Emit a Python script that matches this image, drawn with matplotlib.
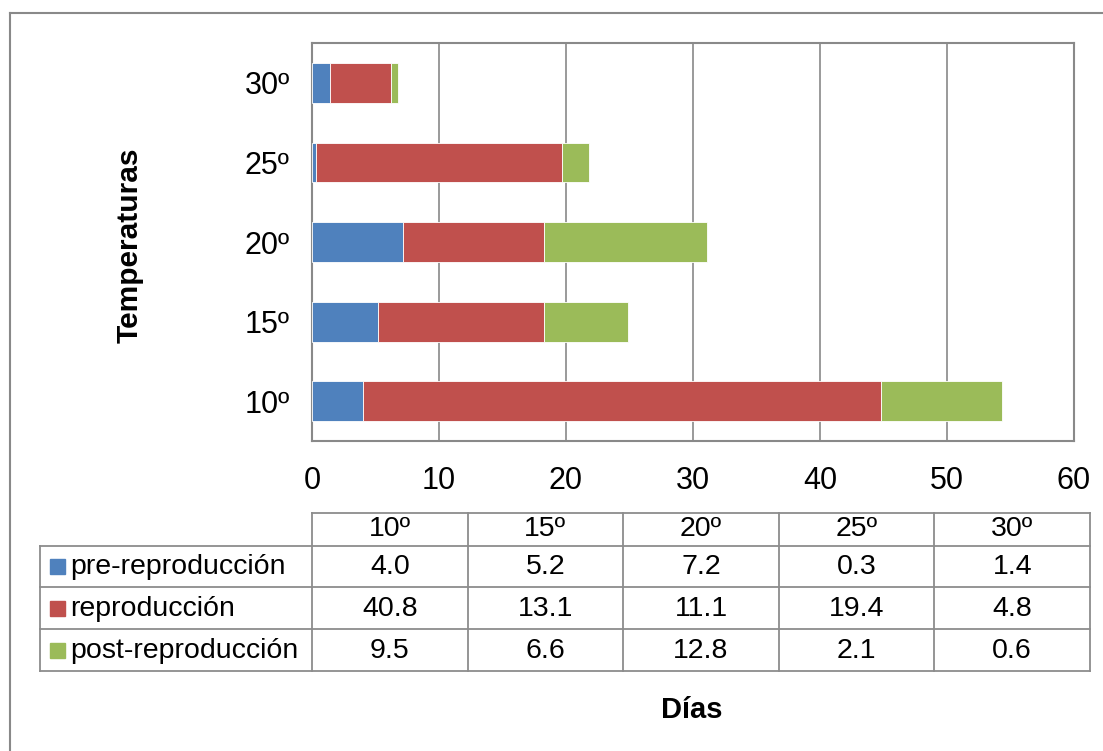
import matplotlib.pyplot as plt
import numpy as np

plt.rcParams['font.family'] = ['Liberation Sans', 'DejaVu Sans']

temps = ['10º', '15º', '20º', '25º', '30º']
series = ['pre-reproducción', 'reproducción', 'post-reproducción']
pre = [4.0, 5.2, 7.2, 0.3, 1.4]
rep = [40.8, 13.1, 11.1, 19.4, 4.8]
post = [9.5, 6.6, 12.8, 2.1, 0.6]
x_ticks = [0, 10, 20, 30, 40, 50, 60]

colors = ['#4F81BD', '#C0504D', '#9BBB59']
grey = '#898989'

W, H = 1103, 751
fig = plt.figure(figsize=(W / 100, H / 100), dpi=100)

# overlay in pixel units for frame, table and titles
ov = fig.add_axes([0, 0, 1, 1])
ov.set_xlim(0, W)
ov.set_ylim(H, 0)
ov.axis('off')

# main plot area
x0, x1, y0, y1 = 312, 1074, 43, 441
ax = fig.add_axes([x0 / W, 1 - y1 / H, (x1 - x0) / W, (y1 - y0) / H])
y = np.arange(len(temps))
left = np.zeros(len(temps))
for vals, c, name in zip([pre, rep, post], colors, series):
    ax.barh(y, vals, left=left, height=0.5, color=c, edgecolor='white',
            linewidth=0.6, label=name, zorder=3)
    left += np.array(vals)

ax.set_xlim(0, 60)
ax.set_ylim(-0.5, len(temps) - 0.5)
ax.set_xticks(x_ticks)
ax.set_yticks(y)
ax.set_yticklabels(temps)
ax.tick_params(axis='x', length=0, pad=18, labelsize=22)
ax.tick_params(axis='y', length=0, pad=16, labelsize=22)
ax.xaxis.grid(True, color=grey, linewidth=1.2, zorder=0)
for s in ax.spines.values():
    s.set_color(grey)
    s.set_linewidth(1.5)

# outer chart border (top and left edges)
ov.plot([10, W], [13, 13], color=grey, lw=1.5)
ov.plot([10, 10], [13, H], color=grey, lw=1.5)

# data table under the axis
col_edges = np.linspace(312, 1090, len(temps) + 1)
row_edges = [513, 546, 587, 629, 671]
lab_left = 40
tcol = '#8c8c8c'
fs = 20.5
ov.plot([col_edges[0], col_edges[-1]], [row_edges[0], row_edges[0]], color=tcol, lw=1.3)
for ry in row_edges[1:]:
    ov.plot([lab_left, col_edges[-1]], [ry, ry], color=tcol, lw=1.3)
for cx in col_edges:
    ov.plot([cx, cx], [row_edges[0], row_edges[-1]], color=tcol, lw=1.3)
ov.plot([lab_left, lab_left], [row_edges[1], row_edges[-1]], color=tcol, lw=1.3)

centers = (col_edges[:-1] + col_edges[1:]) / 2
for cx, t in zip(centers, temps):
    ov.text(cx, (row_edges[0] + row_edges[1]) / 2, t, ha='center', va='center', fontsize=fs)
for i, (vals, c, name) in enumerate(zip([pre, rep, post], colors, series)):
    cy = (row_edges[i + 1] + row_edges[i + 2]) / 2
    ov.add_patch(plt.Rectangle((50, cy - 7.5), 15, 15, color=c))
    ov.text(70, cy + 1, name, ha='left', va='center', fontsize=fs)
    for cx, v in zip(centers, vals):
        ov.text(cx, cy + 1, f'{v:.1f}', ha='center', va='center', fontsize=fs)

ov.text(692, 710, 'Días', ha='center', va='center', fontsize=21, fontweight='bold')
ov.text(130, 245, 'Temperaturas', ha='center', va='center', rotation=90,
        fontsize=21.5, fontweight='bold')

fig.savefig('out.png', dpi=100)
